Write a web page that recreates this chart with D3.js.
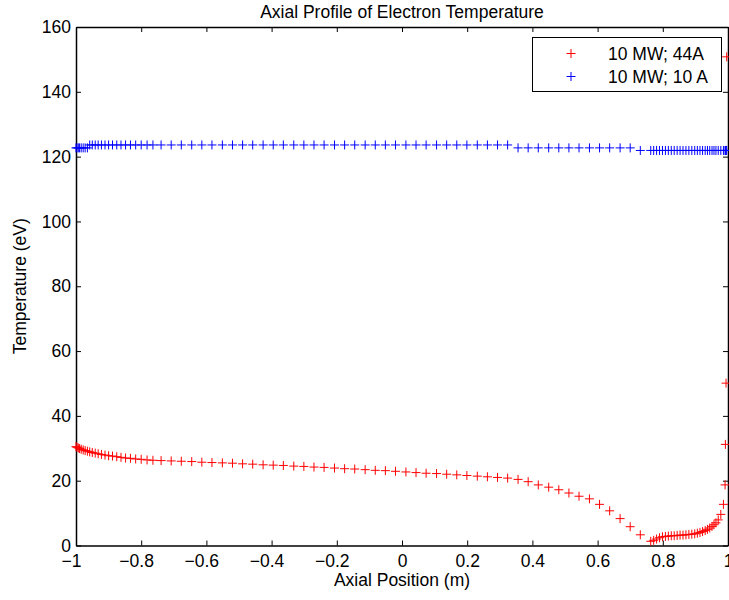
<!DOCTYPE html>
<html>
<head>
<meta charset="utf-8">
<script src="https://cdn.jsdelivr.net/npm/d3@7"></script>
<style>
  html, body { margin: 0; padding: 0; background: #fff; }
  svg { display: block; }
  text { font-family: "Liberation Sans", Arial, Helvetica, sans-serif; fill: #000; }
</style>
</head>
<body>
<svg id="chart" width="729" height="600"></svg>
<script>
// Axial positions (m), shared by both series
const positions = [
  -1.000, -0.997, -0.993, -0.989, -0.984, -0.978, -0.972, -0.965, -0.958, -0.950,
  -0.941, -0.932, -0.922, -0.911, -0.900, -0.888, -0.875, -0.862, -0.848, -0.833,
  -0.817, -0.800, -0.782, -0.764,
  -0.739, -0.708, -0.677, -0.645, -0.614, -0.583, -0.551, -0.520, -0.489, -0.458,
  -0.426, -0.395, -0.364, -0.332, -0.301, -0.270, -0.239, -0.207, -0.176, -0.145,
  -0.113, -0.082, -0.051, -0.020, 0.012, 0.043, 0.074, 0.106, 0.137, 0.168,
  0.199, 0.231, 0.262, 0.293, 0.324, 0.356, 0.387, 0.418, 0.450, 0.481,
  0.512, 0.543, 0.575, 0.606, 0.637, 0.669, 0.700, 0.731, 0.763,
  0.772, 0.781, 0.790, 0.799, 0.808, 0.817, 0.826, 0.835, 0.844, 0.853,
  0.862, 0.871, 0.880, 0.889, 0.898, 0.906, 0.914, 0.922, 0.930, 0.937,
  0.944, 0.951, 0.957, 0.963, 0.970, 0.978, 0.986, 0.991, 0.992, 0.994, 0.996
];

// 10 MW; 44A  (eV)
const temp44A = [
  30.5, 30.3, 30.1, 29.9, 29.7, 29.5, 29.3, 29.1, 28.9, 28.7,
  28.5, 28.3, 28.1, 27.9, 27.7, 27.6, 27.4, 27.2, 27.0, 26.9,
  26.7, 26.6, 26.4, 26.3,
  26.2, 26.1, 26.0, 25.9, 25.7, 25.6, 25.5, 25.4, 25.2, 25.1,
  24.9, 24.8, 24.7, 24.5, 24.4, 24.2, 24.1, 23.9, 23.7, 23.6,
  23.4, 23.2, 23.1, 22.9, 22.7, 22.5, 22.3, 22.2, 22.0, 21.8,
  21.6, 21.4, 21.2, 21.0, 20.8, 20.4, 19.7, 18.7, 18.0, 17.2,
  16.2, 15.2, 14.4, 12.7, 10.7, 8.3, 5.8, 3.3, 1.3,
  1.6, 2.0, 2.4, 2.7, 2.8, 2.9, 3.0, 3.0, 3.1, 3.2,
  3.2, 3.3, 3.4, 3.5, 3.6, 3.8, 4.0, 4.3, 4.6, 5.0,
  5.4, 5.9, 6.4, 7.0, 7.9, 9.6, 12.7, 18.7, 31.2, 50.1, 150.8
];

// 10 MW; 10 A  (eV)
const temp10A = [
  122.7, 122.7, 122.7, 122.7, 122.7, 122.7, 122.7, 122.7, 123.6, 123.6,
  123.6, 123.6, 123.6, 123.6, 123.6, 123.6, 123.6, 123.6, 123.6, 123.6,
  123.6, 123.6, 123.6, 123.6,
  123.6, 123.6, 123.6, 123.6, 123.6, 123.6, 123.6, 123.6, 123.6, 123.6,
  123.6, 123.6, 123.6, 123.6, 123.6, 123.6, 123.6, 123.6, 123.6, 123.6,
  123.6, 123.6, 123.6, 123.6, 123.6, 123.6, 123.6, 123.6, 123.6, 123.6,
  123.6, 123.6, 123.6, 123.6, 123.6, 122.7, 122.7, 122.7, 122.7, 122.7,
  122.7, 122.7, 122.7, 122.7, 122.7, 122.7, 122.7, 121.9, 121.9,
  121.9, 121.9, 121.9, 121.9, 121.9, 121.9, 121.9, 121.9, 121.9, 121.9,
  121.9, 121.9, 121.9, 121.9, 121.9, 121.9, 121.9, 121.9, 121.9, 121.9,
  121.9, 121.9, 121.9, 121.9, 121.9, 121.9, 121.9, 121.9, 121.9, 121.9, 121.9
];

const seriesNames = ["10 MW; 44A", "10 MW; 10 A"];
const seriesColors = ["#ff0000", "#0000ff"];

const xTickValues = [-1, -0.8, -0.6, -0.4, -0.2, 0, 0.2, 0.4, 0.6, 0.8, 1];
const xTickLabels = ["\u22121", "\u22120.8", "\u22120.6", "\u22120.4", "\u22120.2", "0", "0.2", "0.4", "0.6", "0.8", "1"];
const yTickValues = [0, 20, 40, 60, 80, 100, 120, 140, 160];
const yTickLabels = ["0", "20", "40", "60", "80", "100", "120", "140", "160"];

const titleText = "Axial Profile of Electron Temperature";
const xLabelText = "Axial Position (m)";
const yLabelText = "Temperature (eV)";

// ---- drawing ----
(function () {
  const FS = 17.5;
  const svg = d3.select("#chart");
  svg.append("rect").attr("width", 729).attr("height", 600).attr("fill", "#fff");

  const pL = 76, pR = 728, pT = 27, pB = 545.5;
  const x = d3.scaleLinear().domain([-1, 1]).range([pL, pR]);
  const y = d3.scaleLinear().domain([0, 160]).range([pB, pT]);

  const xLab = d => xTickLabels[xTickValues.indexOf(d)];
  const yLab = d => yTickLabels[yTickValues.indexOf(d)];

  const gB = svg.append("g").attr("transform", `translate(0,${pB})`)
    .call(d3.axisBottom(x).tickValues(xTickValues).tickFormat(xLab).tickSizeInner(-5).tickSizeOuter(0).tickPadding(9));
  const gT = svg.append("g").attr("transform", `translate(0,${pT})`)
    .call(d3.axisTop(x).tickValues(xTickValues).tickFormat("").tickSizeInner(-5).tickSizeOuter(0));
  const gL = svg.append("g").attr("transform", `translate(${pL},0)`)
    .call(d3.axisLeft(y).tickValues(yTickValues).tickFormat(yLab).tickSizeInner(-5).tickSizeOuter(0).tickPadding(5));
  const gR = svg.append("g").attr("transform", `translate(${pR},0)`)
    .call(d3.axisRight(y).tickValues(yTickValues).tickFormat("").tickSizeInner(-5).tickSizeOuter(0));

  [gB, gT, gL, gR].forEach(g => {
    g.select(".domain").attr("stroke", "#000").attr("stroke-width", 1.5);
    g.selectAll(".tick line").attr("stroke", "#000").attr("stroke-width", 1);
    g.selectAll("text").attr("font-size", FS).attr("font-family", "'Liberation Sans', Arial, sans-serif").attr("fill", "#000");
  });
  gB.selectAll(".tick text").attr("dx", d => d < 0 ? "-0.29em" : null);
  gL.selectAll(".tick text").attr("x", -5);

  const plus = "M-4.5,0H4.5M0,-4.5V4.5";
  const series = [temp44A, temp10A];
  series.forEach((vals, si) => {
    svg.append("g").selectAll("path")
      .data(positions.map((p, i) => [p, vals[i]]))
      .join("path")
      .attr("d", plus)
      .attr("transform", d => `translate(${x(d[0])},${y(d[1])})`)
      .attr("fill", "none")
      .attr("stroke", seriesColors[si])
      .attr("stroke-width", 1);
  });

  svg.append("text").attr("x", (pL + pR) / 2).attr("y", 18)
    .attr("text-anchor", "middle").attr("font-size", FS).text(titleText);
  svg.append("text").attr("x", (pL + pR) / 2).attr("y", 586)
    .attr("text-anchor", "middle").attr("font-size", FS).text(xLabelText);
  svg.append("text").attr("transform", `translate(26,${(pT + pB) / 2}) rotate(-90)`)
    .attr("text-anchor", "middle").attr("font-size", FS).text(yLabelText);

  const lg = svg.append("g");
  lg.append("rect").attr("x", 532.5).attr("y", 37.5).attr("width", 189).attr("height", 54)
    .attr("fill", "#fff").attr("stroke", "#000").attr("stroke-width", 1);
  seriesNames.forEach((name, i) => {
    const cy = 53.5 + i * 23;
    lg.append("path").attr("d", plus).attr("transform", `translate(571,${cy})`)
      .attr("fill", "none").attr("stroke", seriesColors[i]).attr("stroke-width", 1);
    lg.append("text").attr("x", 608).attr("y", cy + 6.3).attr("font-size", FS).text(name);
  });
})();
</script>
</body>
</html>
